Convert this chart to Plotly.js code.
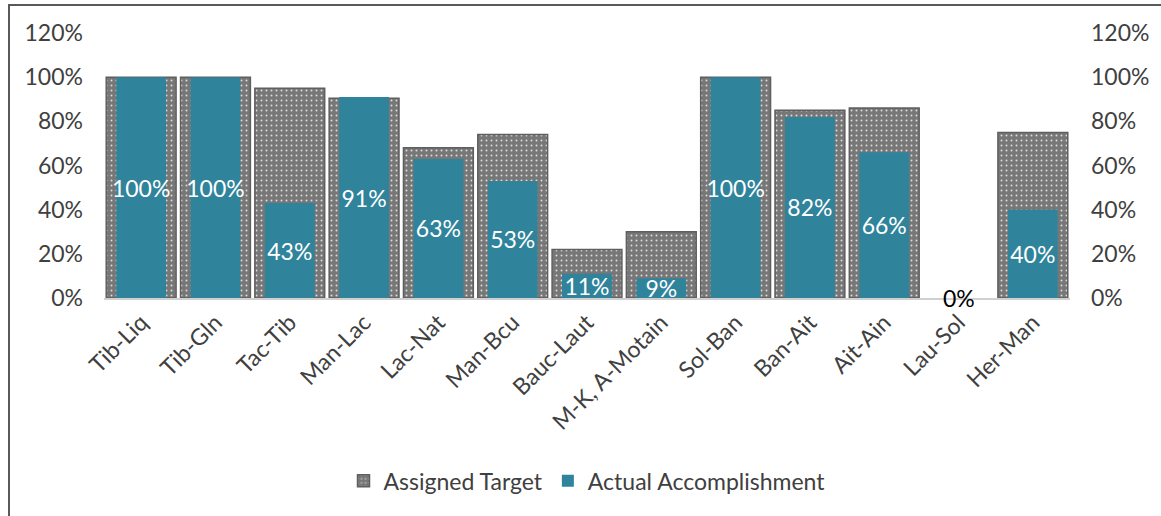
<!DOCTYPE html>
<html>
<head>
<meta charset="utf-8">
<script src="https://cdn.plot.ly/plotly-3.0.1.min.js"></script>
<style>
  body { margin: 0; background: #fff; }
  #wrap { position: relative; width: 1161px; height: 516px; }
  #chart { position: absolute; left: 0; top: 0; width: 1161px; height: 516px; }
  #frame { position: absolute; left: 8px; top: 4px; width: 1153px; height: 512px;
           border-top: 2px solid #595959; border-left: 2px solid #595959; pointer-events: none; }
</style>
</head>
<body>
<div id="wrap">
  <div id="chart"></div>
  <div id="frame"></div>
</div>
<script>
// route segments
var routes = ["Tib-Liq", "Tib-Gln", "Tac-Tib", "Man-Lac", "Lac-Nat", "Man-Bcu", "Bauc-Laut",
              "M-K, A-Motain", "Sol-Ban", "Ban-Ait", "Ait-Ain", "Lau-Sol", "Her-Man"];
// assigned target
var target = [1.00, 1.00, 0.95, 0.905, 0.68, 0.74, 0.22, 0.30, 1.00, 0.85, 0.86, 0, 0.75];
// actual accomplishment (data labels)
var actual = [1.00, 1.00, 0.43, 0.91, 0.63, 0.53, 0.11, 0.09, 1.00, 0.82, 0.66, 0, 0.40];
var tickVals = [0, 0.2, 0.4, 0.6, 0.8, 1.0, 1.2];

var fnt = "Lato, 'Open Sans', sans-serif";
var grey = "#404040";

var targetTrace = {
  type: "bar",
  name: "Assigned Target",
  x: routes,
  y: target,
  width: 0.94,
  marker: {
    color: "#7a7a7a",
    pattern: { shape: ".", bgcolor: "#777777", fgcolor: "#dcdcdc", size: 5, solidity: 0.12 },
    // no outline when the target is zero
    line: { color: "#5f5f5f", width: target.map(function(v){ return v > 0 ? 1.5 : 0; }) }
  },
  hoverinfo: "skip"
};

var actualTrace = {
  type: "bar",
  name: "Actual Accomplishment",
  x: routes,
  y: actual,
  yaxis: "y2",
  width: 0.67,
  marker: { color: "#2f839b" },
  text: actual.map(function(v){ return v > 0 ? Math.round(v*100) + "%" : ""; }),
  textposition: "inside",
  insidetextanchor: "middle",
  constraintext: "none",
  textangle: 0,
  textfont: { family: fnt, size: 23, color: "#ffffff" },
  hoverinfo: "skip"
};

// zero values get their label sitting on the axis line
var zeroNotes = [];
for (var i = 0; i < actual.length; i++) {
  if (actual[i] == 0) {
    zeroNotes.push({ x: routes[i], y: 0, xref: "x", yref: "y2", text: "0%", showarrow: false,
                     yanchor: "middle", font: { family: fnt, size: 23, color: "#000000" } });
  }
}

var yAxisCommon = {
  range: [0, 1.2],
  tickvals: tickVals,
  tickformat: ".0%",
  showgrid: false,
  zeroline: false,
  showline: false,
  ticks: "",
  ticklabelstandoff: 20,
  tickfont: { family: fnt, size: 23, color: grey },
  fixedrange: true
};

var layout = {
  width: 1161,
  height: 516,
  margin: { l: 104, r: 91, t: 33, b: 218 },
  paper_bgcolor: "#ffffff",
  plot_bgcolor: "#ffffff",
  barmode: "overlay",
  showlegend: true,
  legend: {
    orientation: "h", x: 0.5, xanchor: "center", y: -0.69, yanchor: "middle",
    font: { family: fnt, size: 23, color: grey },
    itemwidth: 30, traceorder: "normal"
  },
  xaxis: {
    type: "category",
    tickangle: -45,
    tickfont: { family: fnt, size: 23, color: grey },
    showline: true, linecolor: "#d0d0d0", linewidth: 2,
    ticks: "", showgrid: false, zeroline: false
  },
  yaxis: Object.assign({}, yAxisCommon, { side: "left" }),
  yaxis2: Object.assign({}, yAxisCommon, { side: "right", overlaying: "y" }),
  annotations: zeroNotes
};

Plotly.newPlot("chart", [targetTrace, actualTrace], layout, { staticPlot: true });
</script>
</body>
</html>
